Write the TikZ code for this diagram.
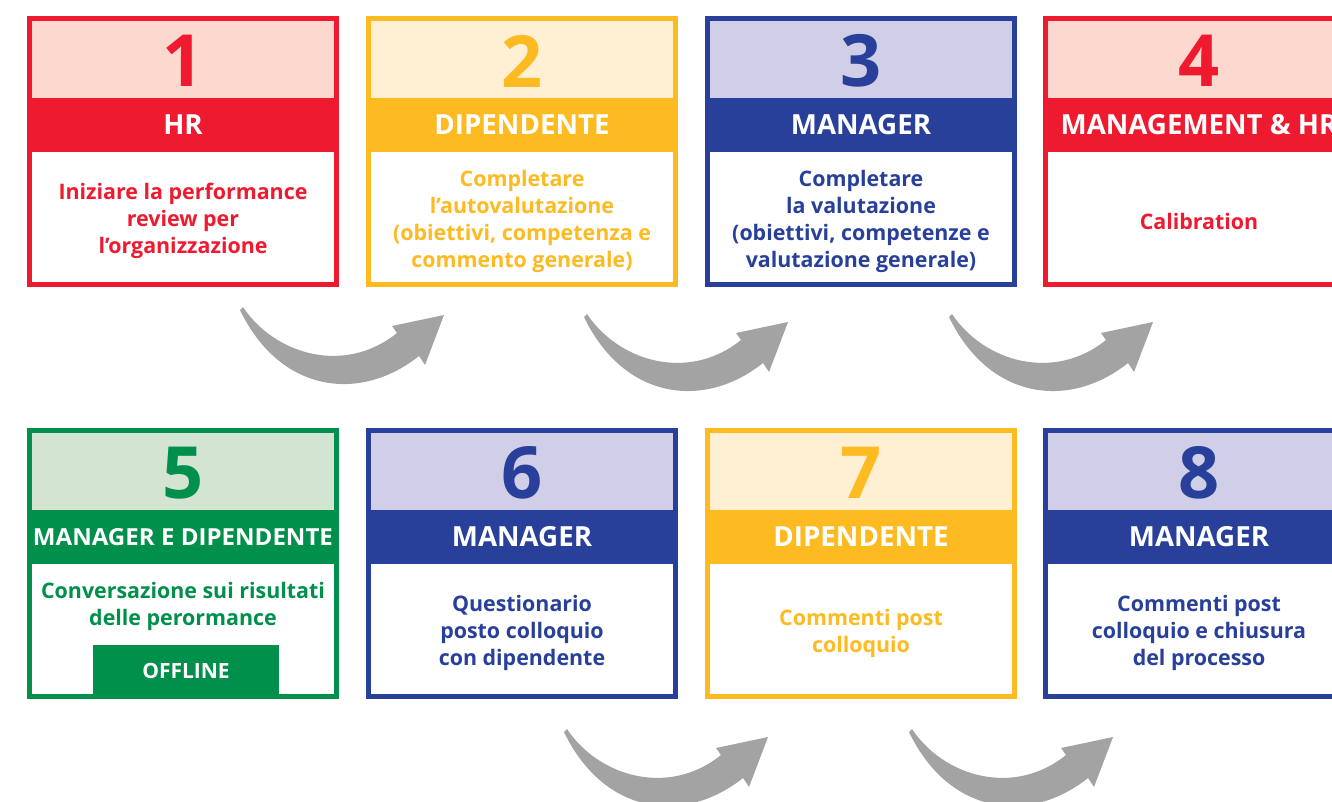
\documentclass[tikz,border=0pt]{standalone}
\usepackage{graphicx}
\usepackage{fontspec}
\setmainfont{Open Sans}
\definecolor{redD}{HTML}{EE1A2F}
\definecolor{redL}{HTML}{FDD8CE}
\definecolor{yelD}{HTML}{FDBA21}
\definecolor{yelL}{HTML}{FFF0D3}
\definecolor{bluD}{HTML}{28409A}
\definecolor{bluL}{HTML}{D0CFE7}
\definecolor{grnD}{HTML}{00904B}
\definecolor{grnL}{HTML}{D3E4D3}
\definecolor{grayA}{HTML}{A3A3A3}
\tikzset{
  numtxt/.style={font=\fontsize{72}{72}\selectfont\bfseries, inner sep=0pt},
  headtxt/.style={font=\fontsize{27.7}{28}\selectfont\bfseries, text=white, inner sep=0pt},
  bodytxt/.style={font=\fontsize{21.4}{27}\selectfont\bfseries, align=center, inner sep=0pt},
  curvarrow/.pic={\fill[grayA] (0,0) .. controls (32,48) and (102,68) .. (154,26) -- (149,19) -- (201,8) -- (182,58) -- (176,49) .. controls (117,96) and (37,86) .. (-3,3) -- cycle;}
}
% #1 name, #2 x left, #3 y top, #4 dark, #5 light, #6 number, #7 header
\newcommand\stepcard[7]{%
  \fill[white] (#2,#3) rectangle ++(312,271);
  \fill[#5] (#2,#3) rectangle ++(312,82);
  \draw[#4, line width=5pt] (#2+2.5,#3+2.5) rectangle ++(307,266);
  \fill[#4] (#2,#3+82) rectangle ++(312,54);
  \node[numtxt, text=#4] (#1num) at (#2+156,#3+45) {#6};
  \node[headtxt] (#1head) at (#2+156,#3+109) {#7};
}
\begin{document}
\begin{tikzpicture}[x=1pt,y=-1pt]
\useasboundingbox (0,0) rectangle (1332,801);
\clip (0,0) rectangle (1332,801);
\fill[white] (0,0) rectangle (1332,801);
% row 1
\stepcard{c1}{27}{16}{redD}{redL}{1}{HR}
\node[bodytxt, text=redD] (c1body) at (183,221) {Iniziare la performance\\review per\\l’organizzazione};
\stepcard{c2}{366}{16}{yelD}{yelL}{2}{DIPENDENTE}
\node[bodytxt, text=yelD] (c2body) at (522,221) {Completare\\l’autovalutazione\\(obiettivi, competenza e\\commento generale)};
\stepcard{c3}{705}{16}{bluD}{bluL}{3}{MANAGER}
\node[bodytxt, text=bluD] (c3body) at (861,221) {Completare\\la valutazione\\(obiettivi, competenze e\\valutazione generale)};
\stepcard{c4}{1043}{16}{redD}{redL}{4}{MANAGEMENT \& HR}
\node[bodytxt, text=redD] (c4body) at (1199,221) {Calibration};
% row 2
\stepcard{c5}{27}{428}{grnD}{grnL}{5}{\resizebox{300pt}{17pt}{MANAGER E DIPENDENTE}}
\node[bodytxt, text=grnD] (c5body) at (183,606) {Conversazione sui risultati\\delle perormance};
\fill[grnD] (93,645) rectangle (279,699);
\node[headtxt, font=\fontsize{21}{21}\selectfont\bfseries] (c5off) at (186,671) {OFFLINE};
\stepcard{c6}{366}{428}{bluD}{bluL}{6}{MANAGER}
\node[bodytxt, text=bluD] (c6body) at (522,633) {Questionario\\posto colloquio\\con dipendente};
\stepcard{c7}{705}{428}{yelD}{yelL}{7}{DIPENDENTE}
\node[bodytxt, text=yelD] (c7body) at (861,633) {Commenti post\\colloquio};
\stepcard{c8}{1043}{428}{bluD}{bluL}{8}{MANAGER}
\node[bodytxt, text=bluD] (c8body) at (1199,633) {Commenti post\\colloquio e chiusura\\del processo};
% arrows
\pic (a1) at (243,307) {curvarrow};
\pic (a2) at (587,314) {curvarrow};
\pic (a3) at (952,314) {curvarrow};
\pic (a4) at (567,729) {curvarrow};
\pic (a5) at (912,729) {curvarrow};
\end{tikzpicture}
\end{document}
